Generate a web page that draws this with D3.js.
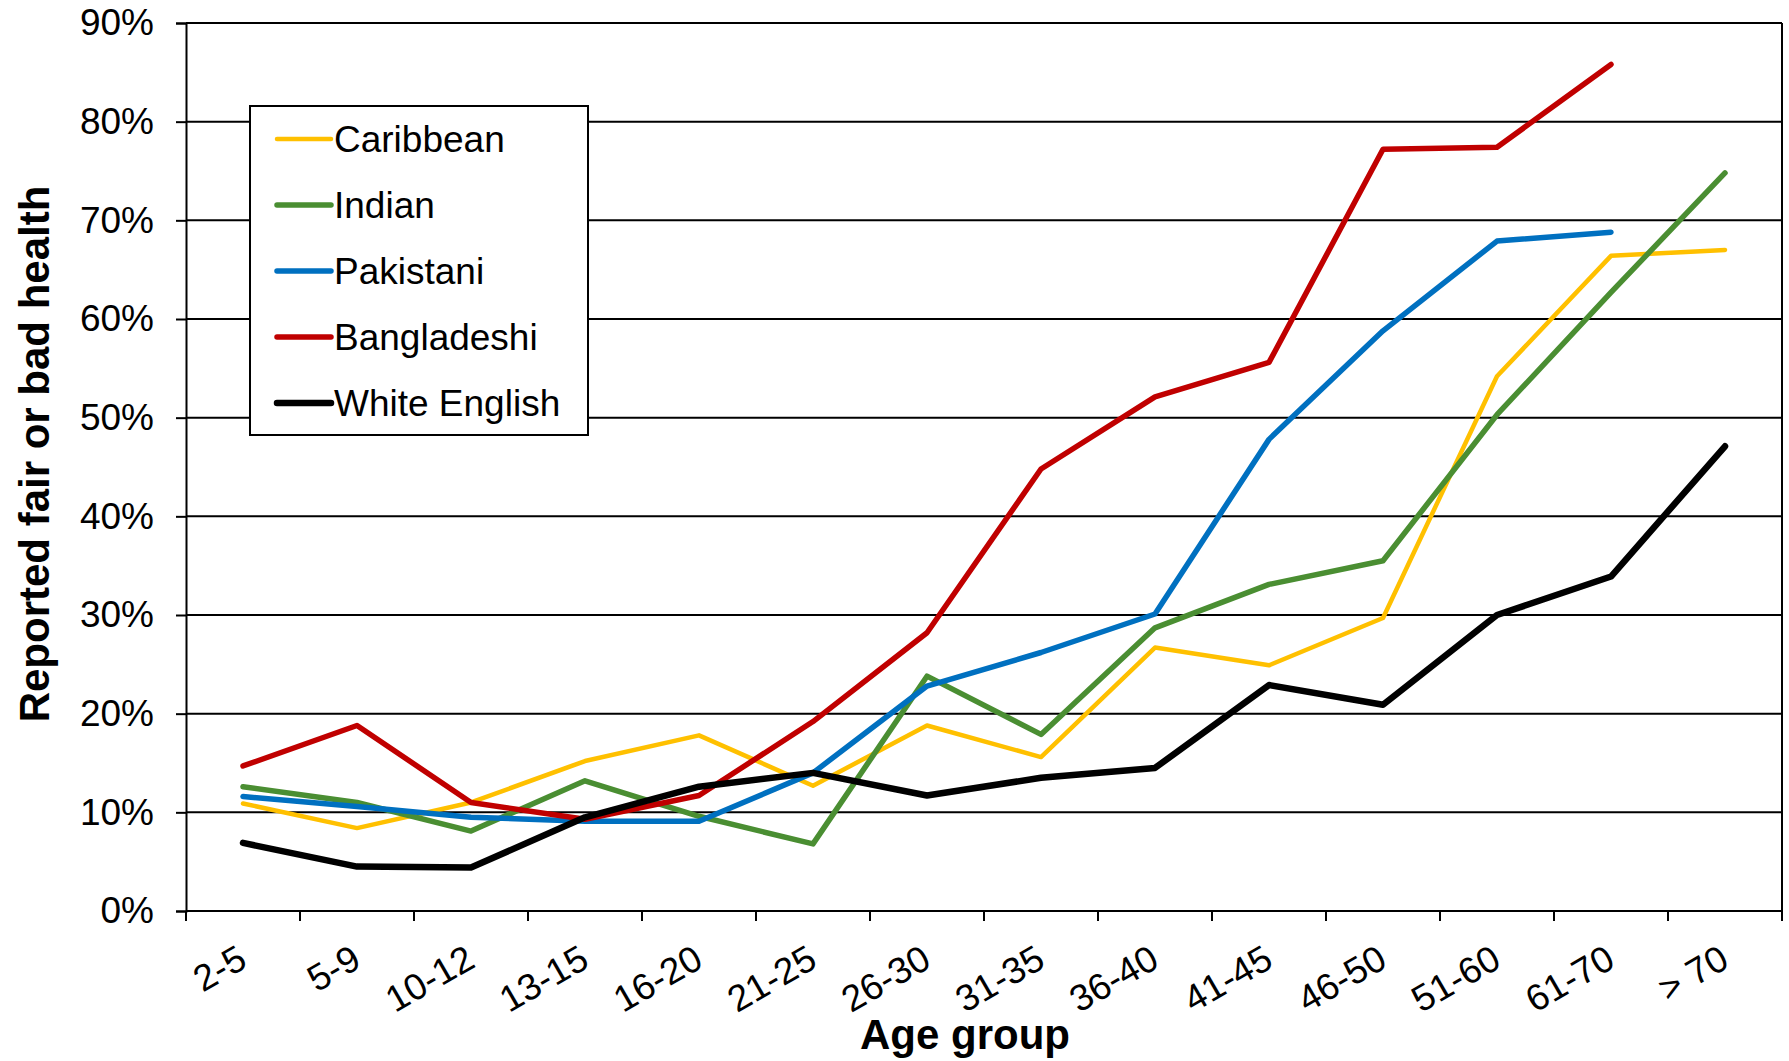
<!DOCTYPE html>
<html>
<head>
<meta charset="utf-8">
<script src="https://cdn.jsdelivr.net/npm/d3@7"></script>
<style>
  body { margin: 0; background: #fff; }
  svg { display: block; font-family: Arial, "Liberation Sans", sans-serif; }
</style>
</head>
<body>
<div class="chart"></div>
<script>
// age groups along the x axis
var ageGroups = ['2-5', '5-9', '10-12', '13-15', '16-20', '21-25', '26-30',
                 '31-35', '36-40', '41-45', '46-50', '51-60', '61-70', '> 70'];

// share reporting fair or bad health, in %
var caribbean   = [10.9, 8.4, 11.0, 15.2, 17.8, 12.7, 18.8, 15.6, 26.7, 24.9, 29.7, 54.2, 66.4, 67.0];
var indian      = [12.6, 11.0, 8.1, 13.2, 9.6, 6.8, 23.8, 17.9, 28.7, 33.1, 35.5, 50.3, 62.7, 74.8];
var pakistani   = [11.6, 10.6, 9.5, 9.1, 9.1, 14.0, 22.8, 26.2, 30.1, 47.8, 58.8, 67.9, 68.8, null];
var bangladeshi = [14.7, 18.8, 11.0, 9.3, 11.7, 19.2, 28.2, 44.8, 52.1, 55.6, 77.2, 77.4, 85.8, null];
var whiteEnglish = [6.9, 4.5, 4.4, 9.5, 12.6, 14.0, 11.7, 13.5, 14.5, 22.9, 20.9, 30.0, 33.9, 47.1];

var seriesNames = ['Caribbean', 'Indian', 'Pakistani', 'Bangladeshi', 'White English'];
var yTicks = [0, 10, 20, 30, 40, 50, 60, 70, 80, 90];

var series = [
    { name: seriesNames[0], values: caribbean,    color: '#FFC000', width: 4.5 },
    { name: seriesNames[1], values: indian,       color: '#4A8E32', width: 5.5 },
    { name: seriesNames[2], values: pakistani,    color: '#0070C0', width: 5.5 },
    { name: seriesNames[3], values: bangladeshi,  color: '#C00000', width: 5.5 },
    { name: seriesNames[4], values: whiteEnglish, color: '#000000', width: 6.5 }
];

var W = 1789, H = 1061;
var margin = { top: 23, right: 7, bottom: 150, left: 186 };
var width = W - margin.left - margin.right;
var height = H - margin.top - margin.bottom;

var svg = d3.select('.chart').append('svg')
    .attr('width', W)
    .attr('height', H);
var g = svg.append('g')
    .attr('transform', 'translate(' + margin.left + ',' + margin.top + ')');

var x = d3.scaleBand().domain(ageGroups).range([0, width]);
var y = d3.scaleLinear().domain([0, 90]).range([height, 0]);

// gridlines
g.selectAll('.grid')
    .data(yTicks)
    .enter()
    .append('line')
    .attr('x1', 0).attr('x2', width)
    .attr('y1', function(d) { return y(d); })
    .attr('y2', function(d) { return y(d); })
    .attr('stroke', '#000')
    .attr('stroke-width', 2);

// right border
g.append('line')
    .attr('x1', width).attr('x2', width)
    .attr('y1', 0).attr('y2', height)
    .attr('stroke', '#000').attr('stroke-width', 2);

// y axis
var yAxis = g.append('g')
    .call(d3.axisLeft(y).tickValues(yTicks).tickSize(10).tickPadding(22)
        .tickFormat(function(d) { return d + '%'; }));
yAxis.select('.domain').attr('stroke-width', 2);
yAxis.selectAll('.tick line').attr('stroke-width', 2);
yAxis.selectAll('text')
    .attr('font-size', 37)
    .attr('fill', '#000')
    .attr('font-family', 'Arial, "Liberation Sans", sans-serif');

// x axis: ticks on band boundaries
var xAxisG = g.append('g').attr('transform', 'translate(0,' + height + ')');
xAxisG.append('line')
    .attr('x1', 0).attr('x2', width)
    .attr('stroke', '#000').attr('stroke-width', 2);
var bounds = ageGroups.map(function(d) { return x(d); }).concat([width]);
xAxisG.selectAll('.xtick')
    .data(bounds)
    .enter()
    .append('line')
    .attr('x1', function(d) { return d; })
    .attr('x2', function(d) { return d; })
    .attr('y1', 0).attr('y2', 10)
    .attr('stroke', '#000').attr('stroke-width', 2);
xAxisG.selectAll('.xlabel')
    .data(ageGroups)
    .enter()
    .append('text')
    .attr('transform', function(d) {
        return 'translate(' + (x(d) + x.bandwidth() / 2 + 6) + ',55) rotate(-30)';
    })
    .attr('text-anchor', 'end')
    .attr('font-size', 37)
    .text(function(d) { return d; });

// lines
var line = d3.line()
    .defined(function(d) { return d != null; })
    .x(function(d, i) { return x(ageGroups[i]) + x.bandwidth() / 2; })
    .y(function(d) { return y(d); });

g.selectAll('.series')
    .data(series)
    .enter()
    .append('path')
    .attr('fill', 'none')
    .attr('stroke', function(d) { return d.color; })
    .attr('stroke-width', function(d) { return d.width; })
    .attr('stroke-linejoin', 'round')
    .attr('stroke-linecap', 'round')
    .attr('d', function(d) { return line(d.values); });

// axis titles
svg.append('text')
    .attr('x', 965)
    .attr('y', 1049)
    .attr('text-anchor', 'middle')
    .attr('font-size', 42)
    .attr('font-weight', 'bold')
    .text('Age group');

svg.append('text')
    .attr('transform', 'translate(49,' + (margin.top + height / 2 - 13) + ') rotate(-90)')
    .attr('text-anchor', 'middle')
    .attr('font-size', 42)
    .attr('font-weight', 'bold')
    .text('Reported fair or bad health');

// legend
var legendG = svg.append('g').attr('transform', 'translate(250,106)');
legendG.append('rect')
    .attr('width', 338).attr('height', 329)
    .attr('fill', '#fff')
    .attr('stroke', '#000').attr('stroke-width', 2);
var item = legendG.selectAll('.legend')
    .data(series)
    .enter()
    .append('g')
    .attr('transform', function(d, i) { return 'translate(0,' + (33 + i * 66) + ')'; });
item.append('line')
    .attr('x1', 27).attr('x2', 81)
    .attr('stroke', function(d) { return d.color; })
    .attr('stroke-width', function(d) { return d.width; })
    .attr('stroke-linecap', 'round');
item.append('text')
    .attr('x', 84)
    .attr('dy', '0.35em')
    .attr('font-size', 37)
    .text(function(d) { return d.name; });
</script>
</body>
</html>
